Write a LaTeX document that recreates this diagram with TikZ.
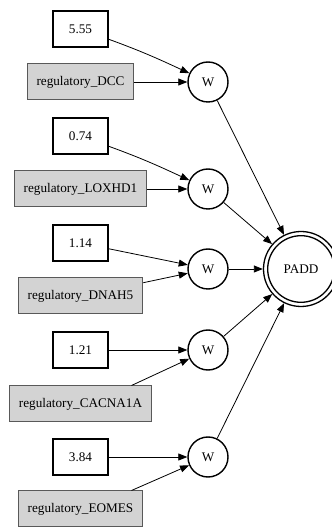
\documentclass[tikz,border=0pt]{standalone}
\usepackage{fontspec}
\setmainfont{Liberation Serif}
\usetikzlibrary{arrows.meta}
\definecolor{reggray}{RGB}{211,211,211}
\begin{document}
\begin{tikzpicture}[x=1pt,y=1pt,
  font=\fontsize{13.2}{15}\selectfont,
  valbox/.style={draw=black,line width=1.2pt,minimum width=55pt,minimum height=36pt,inner xsep=9.5pt,inner ysep=0pt},
  regbox/.style={draw=black!65,fill=reggray,line width=1pt,minimum height=36pt,inner xsep=9.5pt,inner ysep=0pt},
  wnode/.style={draw=black,circle,line width=1.4pt,minimum size=40pt,inner sep=0pt},
  conn/.style={line width=0.8pt,-{Triangle[length=9pt,width=7pt]}}]
\useasboundingbox (0,0) rectangle (332,528);
\node[valbox] (v1) at (80.5,499) {5.55};
\node[regbox] (r1) at (80.5,446) {regulatory\_DCC};
\node[wnode] (w1) at (208,446) {W};
\node[valbox] (v2) at (80.5,392) {0.74};
\node[regbox] (r2) at (80.5,339) {regulatory\_LOXHD1};
\node[wnode] (w2) at (208,339) {W};
\node[valbox] (v3) at (80.5,285) {1.14};
\node[regbox] (r3) at (80.5,232) {regulatory\_DNAH5};
\node[wnode] (w3) at (208,259) {W};
\node[valbox] (v4) at (80.5,178) {1.21};
\node[wnode] (w4) at (208,178) {W};
\node[regbox] (r4) at (80.5,124) {regulatory\_CACNA1A};
\node[valbox] (v5) at (80.5,71) {3.84};
\node[wnode] (w5) at (208,71) {W};
\node[regbox] (r5) at (80.5,19) {regulatory\_EOMES};
\node[draw=black,circle,line width=1.3pt,minimum size=75pt,inner sep=0pt] (padd) at (301,259) {PADD};
\draw[line width=1.3pt] (padd.center) circle[radius=33.3pt];
\draw[conn] (v1) to[out=-20,in=155] (w1);
\draw[conn] (r1) -- (w1);
\draw[conn] (v2) to[out=-20,in=155] (w2);
\draw[conn] (r2) -- (w2);
\draw[conn] (v3) -- (w3);
\draw[conn] (r3) -- (w3);
\draw[conn] (v4) -- (w4);
\draw[conn] ([xshift=51pt]r4.north) -- (w4);
\draw[conn] (v5) -- (w5);
\draw[conn] ([xshift=51pt]r5.north) -- (w5);
\draw[conn] (w1) -- (padd);
\draw[conn] (w2) -- (padd);
\draw[conn] (w3) -- (padd);
\draw[conn] (w4) -- (padd);
\draw[conn] (w5) -- (padd);
\end{tikzpicture}
\end{document}
